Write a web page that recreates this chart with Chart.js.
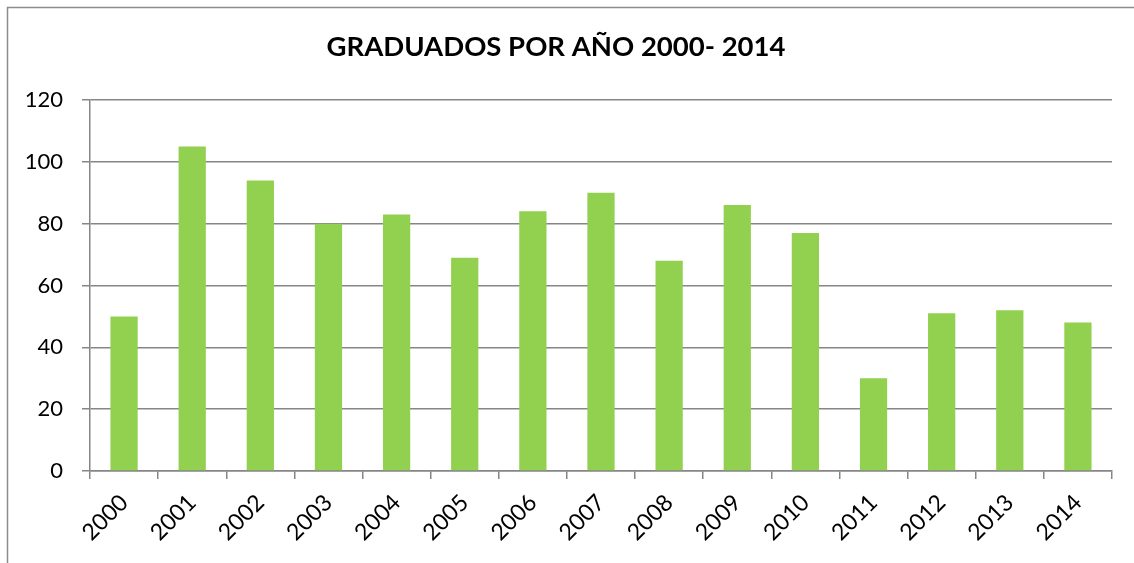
<!DOCTYPE html>
<html>
<head>
<meta charset="utf-8">
<script src="https://cdn.jsdelivr.net/npm/chart.js@4"></script>
<style>
  html, body { margin: 0; padding: 0; background: #fff; }
  #wrap { position: relative; width: 1134px; height: 563px; }
</style>
</head>
<body>
<div id="wrap"><canvas id="chart" width="1134" height="563"></canvas></div>
<script>
// Datos
const years = ['2000', '2001', '2002', '2003', '2004', '2005', '2006', '2007',
  '2008', '2009', '2010', '2011', '2012', '2013', '2014'];
const graduados = [50, 105, 94, 80, 83, 69, 84, 90, 68, 86, 77, 30, 51, 52, 48];
const yTicks = [0, 20, 40, 60, 80, 100, 120];

const gridGray = '#868686';

// Marco exterior (borde superior e izquierdo)
const framePlugin = {
  id: 'frame',
  beforeDraw(chart) {
    const ctx = chart.ctx;
    ctx.save();
    ctx.strokeStyle = '#8c8c8c';
    ctx.lineWidth = 1.5;
    ctx.beginPath();
    ctx.moveTo(7.5, 563);
    ctx.lineTo(7.5, 7.5);
    ctx.lineTo(1134, 7.5);
    ctx.stroke();
    ctx.restore();
  }
};

new Chart(document.getElementById('chart'), {
  type: 'bar',
  data: {
    labels: years,
    datasets: [{
      data: graduados,
      backgroundColor: '#92D050',
      borderWidth: 0,
      categoryPercentage: 1,
      barPercentage: 0.4
    }]
  },
  options: {
    responsive: false,
    animation: false,
    layout: { padding: { left: 0, right: 22, top: 0, bottom: 0 } },
    plugins: {
      legend: { display: false },
      tooltip: { enabled: false },
      title: {
        display: true,
        text: 'GRADUADOS POR AÑO 2000- 2014',
        color: '#000',
        font: { family: 'Lato', size: 27.5, weight: 'bold' },
        padding: { top: 31, bottom: 36 }
      }
    },
    scales: {
      x: {
        grid: {
          offset: true,
          drawOnChartArea: false,
          drawTicks: true,
          tickLength: 8,
          color: gridGray,
          lineWidth: 1.5
        },
        border: { display: true, color: gridGray, width: 1.5 },
        ticks: {
          color: '#000',
          font: { family: 'Lato', size: 23 },
          minRotation: 45,
          maxRotation: 45,
          padding: 10
        },
        afterFit(scale) { scale.height = 92; }
      },
      y: {
        min: 0,
        max: 120,
        afterBuildTicks(scale) { scale.ticks = yTicks.map(v => ({ value: v })); },
        grid: {
          color: gridGray,
          lineWidth: 1.5,
          drawTicks: true,
          tickLength: 8
        },
        border: { display: true, color: gridGray, width: 1.5 },
        ticks: {
          color: '#000',
          font: { family: 'Lato', size: 22 },
          padding: 19
        },
        afterFit(scale) { scale.width = 90; }
      }
    }
  },
  plugins: [framePlugin]
});
</script>
</body>
</html>
